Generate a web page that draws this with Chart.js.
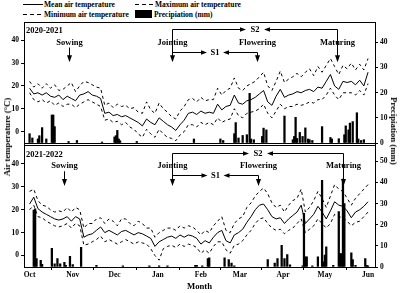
<!DOCTYPE html>
<html lang="en">
<head>
<meta charset="UTF-8">
<title>Air temperature and precipitation</title>
<style>
    body { margin: 0; background: #fff; }
    #wrap { position: relative; width: 400px; height: 293px; font-family: "Liberation Serif", serif; font-weight: bold; color: #000; overflow: hidden; }
    .key { position: absolute; font-size: 7.5px; line-height: 9px; white-space: nowrap; }
    .swatch { position: absolute; }
    .ytitle { position: absolute; font-size: 8.7px; line-height: 10px; white-space: nowrap; }
    canvas { position: absolute; left: 0; }
</style>
</head>
<body>
<div id="wrap">
    <svg class="swatch" style="left:23px;top:0" width="20" height="9"><line x1="0" y1="4.5" x2="20" y2="4.5" stroke="#000" stroke-width="1"/></svg>
    <div class="key" style="left:44px;top:0">Mean air temperature</div>
    <svg class="swatch" style="left:135px;top:0" width="19" height="9"><line x1="0" y1="4.5" x2="19" y2="4.5" stroke="#000" stroke-width="1" stroke-dasharray="4,3"/></svg>
    <div class="key" style="left:155px;top:0">Maximum air temperature</div>
    <svg class="swatch" style="left:23px;top:10px" width="20" height="9"><line x1="0" y1="4.5" x2="20" y2="4.5" stroke="#000" stroke-width="1" stroke-dasharray="4,3"/></svg>
    <div class="key" style="left:44px;top:10px">Minimum air temperature</div>
    <div class="swatch" style="left:135px;top:10px;width:17px;height:8px;background:#000"></div>
    <div class="key" style="left:154px;top:10px">Precipiation (mm)</div>

    <canvas id="panel-2021" width="400" height="150" style="top:0"></canvas>
    <canvas id="panel-2022" width="400" height="155" style="top:138px"></canvas>

    <div class="ytitle" style="left:7px;top:137px;transform:translate(-50%,-50%) rotate(-90deg)">Air temperature (°C)</div>
    <div class="ytitle" style="left:394px;top:131px;transform:translate(-50%,-50%) rotate(90deg)">Precipiation (mm)</div>
</div>

<script src="https://cdn.jsdelivr.net/npm/chart.js"></script>
<script>
    // months on the x axis (day counted from 1 Oct)
    const monthDays = [0, 31, 61, 92, 123, 151, 182, 212, 243];
    const monthLabels = ['Oct', 'Nov', 'Dec', 'Jan', 'Feb', 'Mar', 'Apr', 'May', 'Jun'];
    const tempTicks = [0, 10, 20, 30, 40];
    const rainTicksA = [0, 10, 20, 30, 40];
    const rainTicksB = [0, 10, 20, 30, 40, 50];

    const stageNames = ['Sowing', 'Jointing', 'Flowering', 'Maturing'];
    const stageDaysA = [28, 102, 163, 221];
    const stageDaysB = [25, 102, 164, 225];

    // temperatures read every 3 days
    const sampleDays = [0, 3, 6, 9, 12, 15, 18, 21, 24, 27, 30, 33, 36, 39, 42, 45, 48, 51, 54, 57,
        60, 63, 66, 69, 72, 75, 78, 81, 84, 87, 90, 93, 96, 99, 102, 105, 108, 111, 114, 117,
        120, 123, 126, 129, 132, 135, 138, 141, 144, 147, 150, 153, 156, 159, 162, 165, 168, 171, 174, 177,
        180, 183, 186, 189, 192, 195, 198, 201, 204, 207, 210, 213, 216, 219, 222, 225, 228, 231, 234, 237,
        240, 243];

    // 2020-2021
    const meanA = [19, 16.5, 17, 16, 17, 15.5, 15, 16, 14, 15.5,
        14.5, 13.5, 16, 16.5, 17.5, 16, 15.5, 14.5, 8, 8.5,
        7, 7.5, 6.5, 7, 6, 5, 4, 2.5, 5.5, 4,
        3, 6, 4.5, 3, 2, 0.5, 3, 5, 8, 8.5,
        7.5, 9, 8, 8.5, 8, 12, 9.5, 11, 11.5, 16,
        12.5, 12, 13.5, 14, 15, 16.5, 18, 13, 11.5, 15.5,
        18.5, 15, 16, 16.5, 17.5, 17, 18, 18.5, 17.5, 19.5,
        19, 22, 25, 20, 18.5, 22, 21.5, 22, 20.5, 22.5,
        20, 26];
    const maxA = [22, 19.5, 21, 19, 21, 19, 20.5, 18, 18.5, 20,
        21.5, 17.5, 20, 22, 21.5, 20.5, 19.5, 19, 11.5, 12.5,
        10.5, 12, 11, 11.5, 10, 10.5, 8.5, 8, 13, 9.5,
        8, 12.5, 10, 8.5, 6.5, 5.5, 9, 11, 14, 14.5,
        13, 15, 13.5, 14, 14, 19, 16, 18, 19, 23.5,
        19, 18, 20, 21, 22, 24, 26, 20, 18, 22,
        26.5, 21.5, 23, 24, 25.5, 24, 26, 27.5, 24.5, 28.5,
        26, 29, 32, 28.5, 25, 29, 27.5, 30, 27, 29.5,
        27, 32];
    const minA = [17, 14, 13, 14, 12.5, 13.5, 11.5, 12.5, 11, 12,
        12, 10.5, 12, 13, 14, 13, 12, 11, 5, 5.5,
        4, 4.5, 3, 4, 2, 1, -1, -2.5, 1, -1,
        -2.5, 1, -1, -2.5, -3, -4, -1.5, 0, 3, 3,
        2, 4, 3, 4, 3, 6, 4, 5, 5.5, 10,
        7, 6, 8, 8.5, 9, 10, 12, 8, 6, 9,
        12, 10, 11, 11, 12, 11.5, 12, 13, 12.5, 14,
        14, 16, 19, 16, 14, 17, 17, 17, 16, 18,
        16, 21];
    const rainDaysA = [0, 2, 6, 7, 9, 12, 16, 17, 18, 28, 34, 52, 61, 62, 63, 64, 65, 77, 118, 137,
        139, 147, 148, 150, 153, 156, 158, 159, 161, 167, 168, 170, 183, 189, 190, 191, 192, 194, 196, 198,
        200, 201, 203, 210, 216, 217, 222, 226, 227, 229, 230, 232, 235, 236, 238, 240];
    const rainA = [3.7, 2, 1.6, 2.9, 6.1, 1.6, 11.1, 11.1, 6.5, 0.6, 1, 0.4, 2.4, 2.9, 5, 1.6, 0.9, 0.6, 1.6, 1.6,
        1, 3.7, 8.1, 2, 3, 3.3, 19.7, 1.6, 1.3, 2.6, 5.9, 5.2, 10.7, 1.3, 2.6, 10.2, 1.8, 4.2, 2.6, 6,
        1.6, 1.3, 1, 6.5, 2.2, 1.6, 1.7, 3.3, 6.8, 5.2, 7.9, 8.5, 12, 1.6, 1, 1.3];

    // 2021-2022
    const meanB = [22.5, 25.5, 20.5, 19, 18, 17, 16, 15.5, 16, 17,
        15, 17, 16, 8, 9, 9.5, 11, 12.5, 10, 11,
        10, 9, 10.5, 11, 10, 9, 10, 9.5, 8.5, 7.5,
        4, 6, 7, 8, 8.5, 7.5, 9, 8, 9, 8.5,
        7.5, 5, 6.5, 5.5, 8, 10, 11, 6.5, 5.5, 9,
        10, 11.5, 14.5, 17, 20, 22, 22.5, 20, 17, 16,
        16.5, 14, 16, 17.5, 19, 22, 14, 16, 18, 21.5,
        19, 16, 19.5, 23.5, 22, 21.5, 19.5, 16.5, 19, 20,
        21.5, 23.5];
    const maxB = [28, 29, 24, 22, 21.5, 20, 19, 19.5, 19, 21,
        19, 21, 20, 12, 14, 14, 16, 16.5, 14, 16,
        15, 13, 16, 16, 14, 13, 15, 14, 12, 12,
        8, 10, 11, 12, 12, 11, 13, 12, 13, 12.5,
        11, 9, 11, 10, 13, 15, 17, 11, 10, 14,
        16, 17, 21, 23, 26, 28, 29.5, 27, 23, 21,
        22, 19, 22, 24, 25, 29, 19, 21, 24, 28,
        25, 21, 26, 31, 29, 28, 25, 22, 25, 27,
        29, 31];
    const minB = [20, 22, 17, 16.5, 15, 14, 13, 12.5, 13, 14,
        12, 14, 13, 4.5, 5, 6, 7, 8.5, 6, 7,
        6, 5, 6, 7, 6, 5, 6, 5.5, 5, 3,
        0, -2, 3, 4, 4.5, 3.5, 5, 4, 5, 4.5,
        3.5, 1, 2.5, 1, 4, 6, 6, 2.5, 1, 4.5,
        5, 6.5, 9, 11, 14, 16, 16.5, 14, 12, 11,
        11.5, 9.5, 11, 12, 14, 16, 10, 11.5, 13, 16,
        14, 12, 14, 18, 17, 16.5, 15, 13, 14.5, 15,
        17, 19];
    const rainDaysB = [3, 4, 5, 8, 9, 16, 18, 20, 22, 25, 26, 29, 31, 37, 48, 67, 86, 93, 99, 119,
        120, 124, 128, 129, 140, 143, 145, 147, 171, 176, 178, 181, 183, 185, 187, 196, 197, 198, 199, 203,
        207, 210, 211, 212, 213, 218, 222, 223, 224, 225, 226, 231, 232, 234, 241, 242, 243];
    const rainB = [27, 27.5, 4, 3.2, 1.3, 8.8, 1.5, 4, 1.5, 2.2, 0.8, 5, 1.2, 9.3, 0.8, 0.6, 0.6, 0.6, 0.6, 0.8,
        0.8, 0.6, 4, 4.4, 4.4, 3.5, 1.9, 0.6, 3.5, 1.9, 4, 10.3, 4, 5.9, 1, 0.6, 25.4, 4.8, 4.8, 0.5,
        4.8, 41, 2.4, 5.6, 9.5, 0.8, 26.2, 6.3, 6.3, 41.6, 30, 6.7, 3.5, 0.8, 4, 0.8, 0.5];

    const serif = 'Liberation Serif';
    const tickFont = { family: serif, weight: 'bold', size: 7.5 };

    const toPoints = (xs, ys) => xs.map((x, i) => ({ x: x, y: ys[i] }));

    // top edge of the plot box (the axes draw the other three sides)
    const framePlugin = {
        id: 'frame',
        afterDraw(chart) {
            const { ctx, chartArea } = chart;
            const y = Math.round(chartArea.top) + 0.5;
            ctx.save();
            ctx.strokeStyle = '#000';
            ctx.lineWidth = 1;
            ctx.beginPath();
            ctx.moveTo(chartArea.left, y);
            ctx.lineTo(chartArea.right, y);
            ctx.stroke();
            ctx.restore();
        }
    };

    // growth stages, S1 / S2 brackets and the season label
    const stagePlugin = {
        id: 'stages',
        afterDatasetsDraw(chart, args, opts) {
            const { ctx } = chart;
            const xs = chart.scales.x, ys = chart.scales.yT;
            const px = d => Math.round(xs.getPixelForValue(d)) + 0.5;
            const py = t => ys.getPixelForValue(t);
            const [sow, joint, flower, mature] = opts.days.map(px);

            ctx.save();
            ctx.strokeStyle = '#000';
            ctx.fillStyle = '#000';
            ctx.lineWidth = 1;
            ctx.font = 'bold 8.5px "' + serif + '"';
            ctx.textBaseline = 'middle';

            ctx.textAlign = 'left';
            ctx.fillText(opts.season, xs.getPixelForValue(-2.6), py(44.2));

            ctx.textAlign = 'center';
            opts.days.forEach((d, i) => ctx.fillText(stageNames[i], px(d), py(39)));

            const line = (x1, y1, x2, y2) => {
                ctx.beginPath();
                ctx.moveTo(x1, y1);
                ctx.lineTo(x2, y2);
                ctx.stroke();
            };
            const down = (x, y1, tip) => {
                line(x, y1, x, tip - 6);
                ctx.beginPath();
                ctx.moveTo(x - 2.5, tip - 7);
                ctx.lineTo(x + 2.5, tip - 7);
                ctx.lineTo(x, tip);
                ctx.closePath();
                ctx.fill();
            };
            const side = (xFrom, xTip, y) => {
                const dir = xTip > xFrom ? 1 : -1;
                line(xFrom, y, xTip - dir * 5, y);
                ctx.beginPath();
                ctx.moveTo(xTip - dir * 6, y - 2.2);
                ctx.lineTo(xTip - dir * 6, y + 2.2);
                ctx.lineTo(xTip, y);
                ctx.closePath();
                ctx.fill();
            };

            const yS2 = Math.round(py(45)) + 0.5;
            const yS1 = Math.round(py(35)) + 0.5;
            const tip = py(30.4);

            down(sow, py(36.8), tip);
            down(joint, yS2, tip);

            const m2 = (joint + mature) / 2;
            ctx.fillText('S2', m2, yS2);
            side(joint, m2 - 9, yS2);
            side(mature, m2 + 9, yS2);
            down(mature, yS2, tip);

            const m1 = (joint + flower) / 2;
            ctx.fillText('S1', m1, yS1);
            side(joint, m1 - 8, yS1);
            side(flower, m1 + 8, yS1);
            down(flower, yS1, tip);

            ctx.restore();
        }
    };

    const yScale = (pos, min, max, ticks, width) => ({
        type: 'linear',
        position: pos,
        min: min,
        max: max,
        afterBuildTicks: s => { s.ticks = ticks.map(v => ({ value: v })); },
        afterFit: s => { s.width = width; },
        ticks: { font: tickFont, color: '#000', padding: 2 },
        grid: { drawOnChartArea: false, tickLength: 3, color: '#000' },
        border: { color: '#000', width: 1 }
    });

    const makePanel = (id, p) => new Chart(document.getElementById(id), {
        type: 'line',
        data: {
            datasets: [{
                label: 'Mean air temperature',
                data: toPoints(sampleDays, p.mean),
                borderColor: '#000',
                borderWidth: 1,
                pointRadius: 0,
                yAxisID: 'yT',
                order: 1
            }, {
                label: 'Maximum air temperature',
                data: toPoints(sampleDays, p.max),
                borderColor: '#000',
                borderWidth: 1,
                borderDash: [3, 3],
                pointRadius: 0,
                yAxisID: 'yT',
                order: 1
            }, {
                label: 'Minimum air temperature',
                data: toPoints(sampleDays, p.min),
                borderColor: '#000',
                borderWidth: 1,
                borderDash: [3, 3],
                pointRadius: 0,
                yAxisID: 'yT',
                order: 1
            }, {
                type: 'bar',
                label: 'Precipiation (mm)',
                data: toPoints(p.rainDays, p.rain),
                backgroundColor: '#000',
                barThickness: 1.6,
                yAxisID: 'yP',
                order: 2
            }]
        },
        options: {
            responsive: false,
            animation: false,
            layout: { padding: { top: p.padTop, left: 0, right: 0, bottom: 0 } },
            plugins: {
                legend: { display: false },
                tooltip: { enabled: false },
                stages: { days: p.stages, season: p.season }
            },
            scales: {
                x: {
                    type: 'linear',
                    min: -4,
                    max: 248,
                    offset: false,
                    afterBuildTicks: s => { s.ticks = monthDays.map(v => ({ value: v })); },
                    afterFit: s => { s.height = p.xHeight; },
                    ticks: {
                        display: p.months,
                        autoSkip: false,
                        maxRotation: 0,
                        font: tickFont,
                        color: '#000',
                        padding: 1,
                        callback: v => monthLabels[monthDays.indexOf(v)]
                    },
                    grid: { drawOnChartArea: false, drawTicks: p.months, tickLength: 3, color: '#000' },
                    border: { color: '#000', width: 1 },
                    title: {
                        display: p.months,
                        text: 'Month',
                        color: '#000',
                        font: { family: serif, weight: 'bold', size: 8.7 },
                        padding: { top: 0, bottom: 1 }
                    }
                },
                yT: yScale('left', -5, p.tMax, tempTicks, 24),
                yP: yScale('right', 0, p.pMax, p.pTicks, 25)
            }
        },
        plugins: [framePlugin, stagePlugin]
    });

    makePanel('panel-2021', {
        mean: meanA, max: maxA, min: minA, rainDays: rainDaysA, rain: rainA,
        stages: stageDaysA, season: '2020-2021',
        padTop: 22, xHeight: 7, months: false,
        tMax: 48, pMax: 48, pTicks: rainTicksA
    });

    makePanel('panel-2022', {
        mean: meanB, max: maxB, min: minB, rainDays: rainDaysB, rain: rainB,
        stages: stageDaysB, season: '2021-2022',
        padTop: 5, xHeight: 26, months: true,
        tMax: 48.5, pMax: 58, pTicks: rainTicksB
    });
</script>
</body>
</html>
